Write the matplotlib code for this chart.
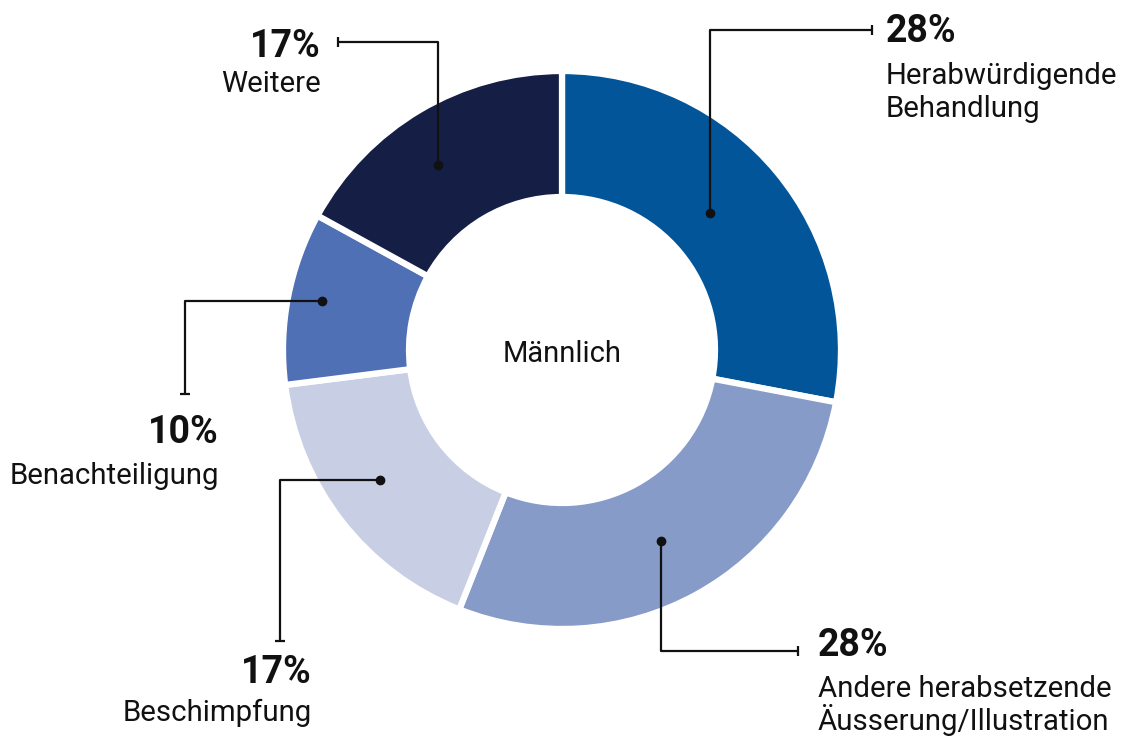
import matplotlib.pyplot as plt
import numpy as np

plt.rcParams['font.family'] = ['Roboto', 'DejaVu Sans']

# Anteile (Männlich)
categories = [['Herabwürdigende', 'Behandlung'],
              ['Andere herabsetzende', 'Äusserung/Illustration'],
              ['Beschimpfung'],
              ['Benachteiligung'],
              ['Weitere']]
values = [28, 28, 17, 10, 17]
pct_labels = ['28%', '28%', '17%', '10%', '17%']
seg_colors = ['#03559a', '#879bc8', '#c8cfe4', '#5070b5', '#151f45']

W, H = 1123, 738
CX, CY = 562, 350           # centre in pixels (y from top)
R_OUT, R_IN = 279, 153
LINE_STEP = 33              # px between label lines

# label layout: dot radius / angle shift, elbow, end, text anchor (pixels, y from top)
# 'v' = leader goes vertical first, 'h' = horizontal first
layout = [
    dict(r=202, da=3.2, first='v', elbow_y=30, end_x=872, tx=886, pct_y=42, lab_y=84, ha='left'),
    dict(r=215, da=-1.4, first='v', elbow_y=651, end_x=798, tx=818, pct_y=656, lab_y=697, ha='left'),
    dict(r=224, da=-2.3, first='h', elbow_x=280, end_y=641, tx=312, pct_y=683, lab_y=721, ha='right'),
    dict(r=245, da=-0.7, first='h', elbow_x=185, end_y=394, tx=219, pct_y=443, lab_y=484, ha='right'),
    dict(r=223, da=3.2, first='v', elbow_y=42, end_x=338, tx=321, pct_y=57, lab_y=92, ha='right'),
]

fig = plt.figure(figsize=(W / 100, H / 100), dpi=100)
ax = fig.add_axes([0, 0, 1, 1])

def Y(py):
    return H - py

wedges, _ = ax.pie(values, colors=seg_colors, startangle=90, counterclock=False,
                   center=(CX, Y(CY)), radius=R_OUT,
                   wedgeprops=dict(width=R_OUT - R_IN, edgecolor='white', linewidth=4.5),
                   frame=True)
ax.set_xlim(0, W)
ax.set_ylim(0, H)
ax.set_aspect('equal')
ax.axis('off')

ax.text(CX, Y(362), 'Männlich', ha='center', va='baseline', fontsize=21, color='#111111')

line_kw = dict(color='#111111', linewidth=1.6, solid_capstyle='butt')
for w, cat, pct, lay in zip(wedges, categories, pct_labels, layout):
    mid = np.deg2rad((w.theta1 + w.theta2) / 2 + lay['da'])
    dx = CX + lay['r'] * np.cos(mid)
    dy = Y(CY) + lay['r'] * np.sin(mid)
    if lay['first'] == 'v':
        ey = Y(lay['elbow_y'])
        xs = [dx, dx, lay['end_x']]
        ys = [dy, ey, ey]
        tick_marker = '|'
    else:
        ex = lay['elbow_x']
        xs = [dx, ex, ex]
        ys = [dy, dy, Y(lay['end_y'])]
        tick_marker = '_'
    ax.plot(xs, ys, **line_kw)
    ax.plot(dx, dy, 'o', color='#111111', markersize=6)
    ax.plot(xs[-1], ys[-1], marker=tick_marker, color='#111111', markersize=7, markeredgewidth=1.6)

    ax.text(lay['tx'], Y(lay['pct_y']), pct, ha=lay['ha'], va='baseline',
            fontsize=27, fontweight='bold', color='#111111')
    for i, line in enumerate(cat):
        ax.text(lay['tx'], Y(lay['lab_y'] + i * LINE_STEP), line, ha=lay['ha'],
                va='baseline', fontsize=21.2, color='#111111')

fig.savefig('out.png', dpi=100)
